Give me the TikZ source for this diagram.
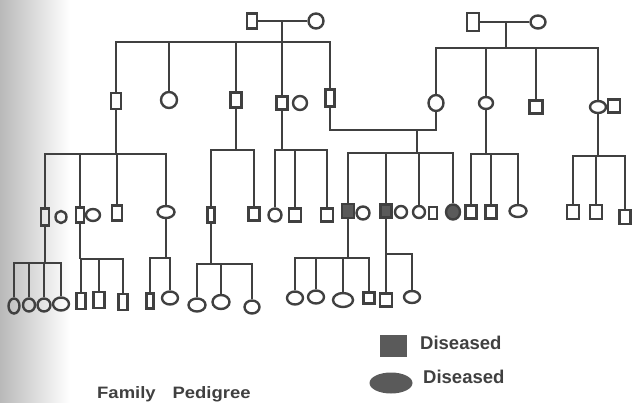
\documentclass[tikz,border=0pt]{standalone}
\usepackage{fontspec}
\newfontfamily\legendfont{Liberation Sans}
\usetikzlibrary{shapes.geometric}
\definecolor{ink}{HTML}{404040}
\definecolor{sickgray}{HTML}{5A5A5A}
\tikzset{
    ln/.style={draw=ink, line width=2.8pt},
    male/.style n args={2}{draw=ink, line width=2.4pt, rectangle, inner sep=0pt,
        minimum width=#1pt, minimum height=#2pt},
    female/.style n args={2}{draw=ink, line width=2.4pt, ellipse, inner sep=0pt,
        minimum width=#1pt, minimum height=#2pt},
    sick/.style={fill=sickgray},
    lbl/.style={font=\legendfont\bfseries\fontsize{18.5}{20}\selectfont, text=ink, inner sep=0pt}
}

\begin{document}
\begin{tikzpicture}[x=1pt, y=-1pt]
    \useasboundingbox (0,0) rectangle (634,402);
    \shade[left color=gray!55, right color=white] (0,0) rectangle (70,402);

    % generation I
    \node[male={10}{15}] (m1) at (252,21) {};
    \node[female={15}{15}] (f1) at (316,21) {};
    \node[male={12}{18}] (m2) at (473,22) {};
    \node[female={15}{13}] (f2) at (538,22) {};

    % generation II
    \node[male={10}{16}] (a1) at (116,101) {};
    \node[female={16}{16}] (a2) at (169,100) {};
    \node[male={11}{15}] (a3) at (236,100) {};
    \node[male={11}{13}] (a4) at (282,103) {};
    \node[female={14}{14}] (a4w) at (300,103) {};
    \node[male={9}{17}] (a5) at (330,98) {};
    \node[female={15}{16}] (b1) at (436,103) {};
    \node[female={14}{12}] (b2) at (486,103) {};
    \node[male={13}{13}] (b3) at (536,107) {};
    \node[female={16}{12}] (b4) at (598,107) {};
    \node[male={12}{13}] (b4h) at (614,106) {};

    % generation III
    \node[male={8}{17}] (c1) at (45,217) {};
    \node[female={11}{12}] (c1w) at (61,217) {};
    \node[male={8}{15}] (c2) at (80,215) {};
    \node[female={14}{12}] (c2w) at (93,215) {};
    \node[male={10}{15}] (c3) at (117,213) {};
    \node[female={17}{12}] (c4) at (166,212) {};
    \node[male={7}{15}] (c5) at (211,215) {};
    \node[male={11}{13}] (c6) at (254,214) {};
    \node[female={13}{13}] (c7) at (275,215) {};
    \node[male={12}{13}] (c8) at (295,215) {};
    \node[male={12}{13}] (c9) at (327,215) {};
    \node[male={12}{14}, sick] (d1) at (348,211) {};
    \node[female={13}{13}] (d1w) at (363,213) {};
    \node[male={11}{13}, sick] (d2) at (386,211) {};
    \node[female={12}{12}] (d2w) at (401,212) {};
    \node[female={12}{12}] (d3) at (419,212) {};
    \node[male={8}{12}] (d3h) at (433,213) {};
    \node[female={14}{15}, sick] (d4) at (453,212) {};
    \node[male={11}{13}] (e1) at (471,212) {};
    \node[male={11}{13}] (e2) at (491,212) {};
    \node[female={17}{12}] (e3) at (518,211) {};
    \node[male={12}{14}] (e4) at (573,212) {};
    \node[male={12}{14}] (e5) at (596,212) {};
    \node[male={11}{14}] (e6) at (625,217) {};

    % generation IV
    \node[female={11}{15}] (g1) at (14,306) {};
    \node[female={12}{13}] (g2) at (29,305) {};
    \node[female={13}{13}] (g3) at (44,305) {};
    \node[female={16}{13}] (g4) at (61,304) {};
    \node[male={9}{16}] (g5) at (81,301) {};
    \node[male={11}{16}] (g6) at (99,300) {};
    \node[male={9}{16}] (g7) at (123,302) {};
    \node[male={7}{15}] (g8) at (150,301) {};
    \node[female={16}{13}] (g9) at (170,298) {};
    \node[female={17}{13}] (g10) at (197,305) {};
    \node[female={17}{14}] (g11) at (221,302) {};
    \node[female={15}{13}] (g12) at (252,307) {};
    \node[female={16}{13}] (h1) at (295,298) {};
    \node[female={16}{13}] (h2) at (316,297) {};
    \node[female={20}{14}] (h3) at (343,300) {};
    \node[male={11}{11}] (h4) at (369,298) {};
    \node[male={12}{13}] (h5) at (386,300) {};
    \node[female={16}{12}] (h6) at (412,297) {};

    % junctions
    \coordinate (j1) at (282,21);
    \coordinate (s1) at (282,42);
    \coordinate (j2) at (506,22);
    \coordinate (s2) at (506,48);
    \coordinate (mj) at (417,130);
    \coordinate (s3) at (417,153);
    \coordinate (s4) at (116,154);
    \coordinate (s5) at (236,150);
    \coordinate (s6) at (282,150);
    \coordinate (s7) at (486,154);
    \coordinate (s8) at (598,156);
    \coordinate (s9) at (45,263);
    \coordinate (s10) at (80,259);
    \coordinate (s11) at (166,258);
    \coordinate (s12) at (211,264);
    \coordinate (s13) at (348,258);
    \coordinate (s14) at (386,254);

    \draw[ln] (m1) -- (f1);
    \draw[ln] (m2) -- (f2);
    \draw[ln] (j1) -- (s1);
    \draw[ln] (j2) -- (s2);
    \draw[ln] (a5) |- (mj) -| (b1);
    \draw[ln] (mj) -- (s3);
    \draw[ln] (a1) -- (s4);
    \draw[ln] (a3) -- (s5);
    \draw[ln] (a4) -- (s6);
    \draw[ln] (b2) -- (s7);
    \draw[ln] (b4) -- (s8);
    \draw[ln] (c1) -- (s9);
    \draw[ln] (c2) -- (s10);
    \draw[ln] (c4) -- (s11);
    \draw[ln] (c5) -- (s12);
    \draw[ln] (d1) -- (s13);
    \draw[ln] (d2) -- (s14);

    \foreach \k in {a1,a2,a3,a4,a5} \draw[ln] (s1) -| (\k);
    \foreach \k in {b1,b2,b3,b4} \draw[ln] (s2) -| (\k);
    \foreach \k in {d1,d2,d3,d4} \draw[ln] (s3) -| (\k);
    \foreach \k in {c1,c2,c3,c4} \draw[ln] (s4) -| (\k);
    \foreach \k in {c5,c6} \draw[ln] (s5) -| (\k);
    \foreach \k in {c7,c8,c9} \draw[ln] (s6) -| (\k);
    \foreach \k in {e1,e2,e3} \draw[ln] (s7) -| (\k);
    \foreach \k in {e4,e5,e6} \draw[ln] (s8) -| (\k);
    \foreach \k in {g1,g2,g3,g4} \draw[ln] (s9) -| (\k);
    \foreach \k in {g5,g6,g7} \draw[ln] (s10) -| (\k);
    \foreach \k in {g8,g9} \draw[ln] (s11) -| (\k);
    \foreach \k in {g10,g11,g12} \draw[ln] (s12) -| (\k);
    \foreach \k in {h1,h2,h3,h4} \draw[ln] (s13) -| (\k);
    \foreach \k in {h5,h6} \draw[ln] (s14) -| (\k);

    % legend
    \node[rectangle, fill=sickgray, minimum width=27pt, minimum height=22pt, inner sep=0pt] (lsq) at (393,346) {};
    \node[ellipse, fill=sickgray, minimum width=43pt, minimum height=21pt, inner sep=0pt] (lel) at (391,383) {};
    \node[lbl, anchor=base west] (t1) at (420,349) {Diseased};
    \node[lbl, anchor=base west] (t2) at (423,383) {Diseased};
    \node[lbl, anchor=base west, font=\legendfont\bfseries\fontsize{16.5}{18}\selectfont] (cap) at (97,398)
        {\scalebox{1.12}[1]{Family\hspace{15pt}Pedigree}};
\end{tikzpicture}
\end{document}
